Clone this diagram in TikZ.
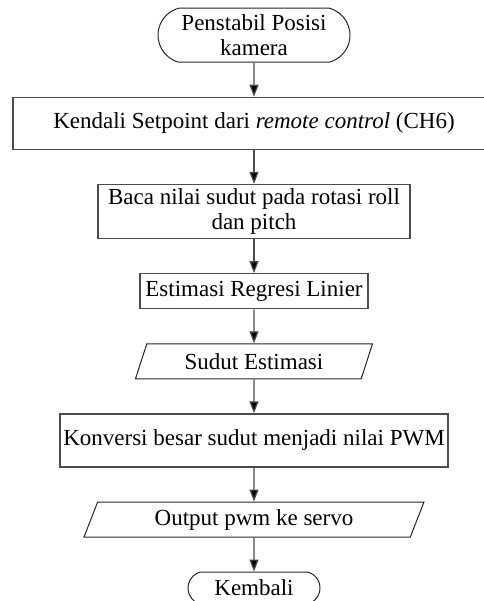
\documentclass[tikz,border=0pt]{standalone}
\usepackage{fontspec}
\setmainfont{Liberation Serif}
\usetikzlibrary{shapes.geometric,shapes.misc,arrows.meta}

\begin{document}
\begin{tikzpicture}[x=1pt,y=-1pt,
        every node/.style={font=\fontsize{23}{25}\selectfont,align=center},
        box/.style={rectangle,draw=black!70,line width=1.2pt,inner sep=3pt},
        term/.style={rounded rectangle,rounded rectangle arc length=150,
            draw=black!85,line width=1pt,minimum height=54pt,inner sep=3pt},
        io/.style={trapezium,trapezium left angle=63,trapezium right angle=117,
            trapezium stretches body=true,draw=black!85,line width=1pt,minimum height=35pt,inner sep=3pt},
        arrow/.style={draw=black!70,line width=1.2pt,-{Triangle[length=12pt,width=9pt,fill=black]}}
        ]
    \useasboundingbox (0,0) rectangle (483,601);
    \matrix (chart) [row sep=34pt,inner sep=0pt,anchor=north] at (254,7.5) {
        \node[term,minimum width=198pt] (start) {Penstabil Posisi\\kamera}; \\
        \node[box,minimum width=482pt,minimum height=52pt] (kendali) {Kendali Setpoint dari \textit{remote control} (CH6)}; \\
        \node[box,minimum width=312pt,minimum height=54pt] (baca) {Baca nilai sudut pada rotasi roll\\dan pitch}; \\
        \node[box,minimum width=228pt,minimum height=35pt] (regresi) {Estimasi Regresi Linier}; \\
        \node[io,minimum width=237pt] (sudut) {Sudut Estimasi}; \\
        \node[box,minimum width=388pt,minimum height=53pt] (konversi) {Konversi besar sudut menjadi nilai PWM}; \\
        \node[io,minimum width=340pt] (output) {Output pwm ke servo}; \\
        \node[term,minimum width=138pt,minimum height=32pt] (kembali) {Kembali}; \\
    };
    \draw[arrow] (start) -- (kendali);
    \draw[arrow] (kendali) -- (baca);
    \draw[arrow] (baca) -- (regresi);
    \draw[arrow] (regresi) -- (sudut);
    \draw[arrow] (sudut) -- (konversi);
    \draw[arrow] (konversi) -- (output);
    \draw[arrow] (output) -- (kembali);
\end{tikzpicture}
\end{document}
